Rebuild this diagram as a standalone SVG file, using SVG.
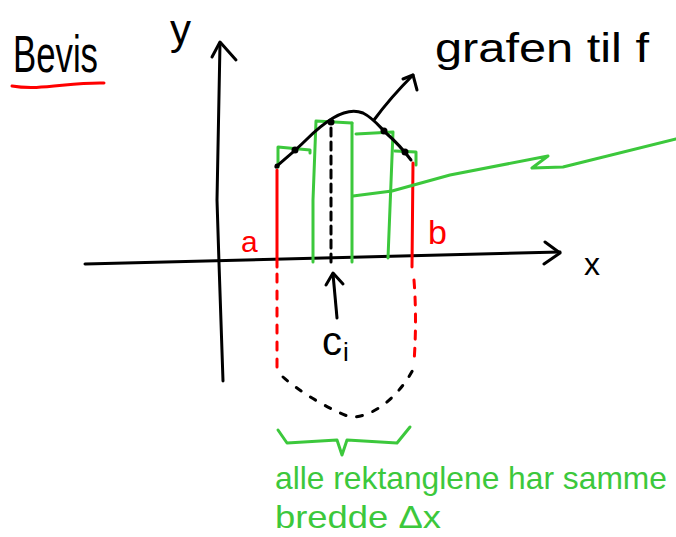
<svg xmlns="http://www.w3.org/2000/svg" width="676" height="537" viewBox="0 0 676 537">
<style>
.k{fill:none;stroke:#000;stroke-width:3;stroke-linecap:round;stroke-linejoin:round}
.g{fill:none;stroke:#3cc83c;stroke-width:3;stroke-linecap:round;stroke-linejoin:round}
.r{fill:none;stroke:#f00;stroke-width:3;stroke-linecap:round;stroke-linejoin:round}
.t{font-family:"Liberation Sans","DejaVu Sans",sans-serif}
.dot{fill:#000}
</style>
<rect width="676" height="537" fill="#fff"/>
<g id="title">
<text class="t" x="13" y="72" font-size="52" textLength="85" lengthAdjust="spacingAndGlyphs">Bevis</text>
<path class="r" d="M12,86 C40,91 70,82 104,83"/>
</g>
<g id="axes">
<path class="k" d="M220,43 L217,200 L219,263 L223,381"/>
<path class="k" d="M212,57 L220,42 L236,60"/>
<text class="t" x="170" y="44" font-size="42">y</text>
<path class="k" d="M85,264 L560,252"/>
<path class="k" d="M545,242 L560,253 L544,264"/>
<text class="t" x="584" y="275" font-size="32">x</text>
</g>
<g id="rectangles">
<path class="g" d="M278,167 L278,147 L310,150 L310,153"/>
<path class="g" d="M313,262 L313,200 L316,121 L352,123"/>
<path class="g" d="M352,123 L352,262"/>
<path class="g" d="M356,134 L393,132 L388,258"/>
<path class="g" d="M395,151 L416,152 L416,165"/>
</g>
<g id="bounds">
<path class="r" d="M277,170 L277,267"/>
<path class="r" d="M413,163 L412,267"/>
<text class="t" x="241" y="252" font-size="30" fill="#f00">a</text>
<text class="t" x="428" y="244" font-size="34" fill="#f00">b</text>
</g>
<g id="graph">
<path class="k" d="M276,167 C286,158 296,150 306,140 C316,130 323,124 333,118 C343,112 353,109 363,113 C373,118 378,125 386,133 C394,140 402,148 411,160"/>
<circle class="dot" cx="277" cy="166" r="2.5"/>
<circle class="dot" cx="295" cy="150" r="3.5"/>
<circle class="dot" cx="331" cy="122" r="3.5"/>
<circle class="dot" cx="384" cy="131" r="3.5"/>
<circle class="dot" cx="405" cy="152" r="3.5"/>
</g>
<g id="label-graph">
<text class="t" x="435" y="62" font-size="40" textLength="214" lengthAdjust="spacingAndGlyphs">grafen til f</text>
</g>
<g id="label-ci">
<text class="t" x="322" y="355" font-size="40">c<tspan font-size="26" dx="1" dy="6">i</tspan></text>
</g>
<g id="label-width">
<text class="t" x="275" y="489" font-size="32" fill="#3cc83c" textLength="392" lengthAdjust="spacingAndGlyphs">alle rektanglene har samme</text>
<text class="t" x="275" y="528" font-size="32" fill="#3cc83c" textLength="166" lengthAdjust="spacingAndGlyphs">bredde Δx</text>
</g>
<g id="connectors">
<path class="k" d="M374,120 C385,105 400,88 413,75"/>
<path class="k" d="M403,79 L413,75 L417,90"/>
<path class="k" d="M331,128 L331,262" stroke-dasharray="8 6"/>
<path class="k" d="M337,318 L333,274"/>
<path class="k" d="M326,285 L333,273 L343,284"/>
<path class="g" d="M353,196 L392,191 L450,175 L548,156 L532,168 L563,167 L676,139"/>
<path class="r" d="M277,274 L277,370" stroke-dasharray="8 9"/>
<path class="r" d="M414,280 C416,305 416,335 414,362" stroke-dasharray="8 9"/>
<path class="k" d="M283,377 C300,392 330,410 350,417 C372,418 398,398 414,368" stroke-dasharray="6 11"/>
<path class="g" d="M278,430 L287,443 L337,440 L342,455 L347,440 L397,443 L410,427"/>
</g>
</svg>
